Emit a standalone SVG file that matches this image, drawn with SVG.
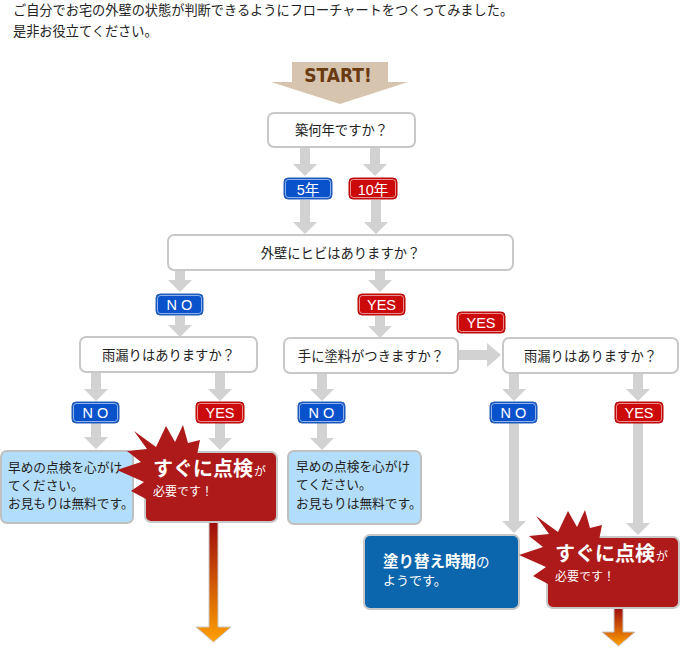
<svg xmlns="http://www.w3.org/2000/svg" width="680" height="648" viewBox="0 0 680 648">
<defs>
<style>
text{font-family:"Noto Sans CJK JP","Liberation Sans",sans-serif;}
.intro{font-size:13.2px;fill:#222;}
.q{fill:#fff;stroke:#c8c8c8;stroke-width:2;}
.qt{font-size:13.3px;fill:#222;text-anchor:middle;}
.ga{fill:#d2d2d2;}
.bb{fill:#0a52cc;stroke:#2a5fb8;stroke-width:1;}
.br{fill:#cc0a0a;stroke:#b80a0a;stroke-width:1;}
.bi{fill:none;stroke:#fff;stroke-opacity:0.55;stroke-width:1;}
.bt{font-family:"Liberation Sans","Noto Sans CJK JP",sans-serif;font-size:14.5px;fill:#fff;text-anchor:middle;}
.lb{fill:#b3defb;stroke:#c0c0c0;stroke-width:2;}
.lt{font-size:12.7px;fill:#222;}
.rb{fill:#ae1a1a;stroke:#c8c8c8;stroke-width:2;}
.burst{fill:#ae1a1a;}
.big{font-size:20px;font-weight:bold;fill:#fff;}
.sm{font-size:12px;fill:#fff;}
.oa{fill:url(#og);stroke:#c8c8c8;stroke-width:1;}
</style>
<linearGradient id="og" x1="0" y1="0" x2="0" y2="1">
<stop offset="0" stop-color="#9e0c0c"/>
<stop offset="1" stop-color="#ffa000"/>
</linearGradient>
</defs>
<rect width="680" height="648" fill="#fff"/>
<text class="intro" x="13" y="15">ご自分でお宅の外壁の状態が判断できるようにフローチャートをつくってみました。</text>
<text class="intro" x="13" y="36">是非お役立てください。</text>

<g id="start">
<polygon points="292,62 388,62 388,82 408,82 340,104 271,82 292,82" fill="#d6c4ae"/>
<text x="338" y="82" text-anchor="middle" style="font-family:'DejaVu Sans Condensed','Liberation Sans',sans-serif;font-weight:bold;font-size:19px;fill:#6a3a10;">START!</text>
</g>

<g id="connectors">
<g class="ga">
<path d="M300,147h10v17h7l-12,12l-12,-12h7z"/>
<path d="M370,147h10v17h7l-12,12l-12,-12h7z"/>
<path d="M300,200h10v22h7l-12,12l-12,-12h7z"/>
<path d="M371,200h10v22h7l-12,12l-12,-12h7z"/>
<path d="M175,270h10v10h7l-12,12l-12,-12h7z"/>
<path d="M375,270h10v10h7l-12,12l-12,-12h7z"/>
<path d="M175,316h10v9h7l-12,12l-12,-12h7z"/>
<path d="M375,316h10v10h7l-12,12l-12,-12h7z"/>
<path d="M458,350v10h29v7l14,-12l-14,-12v7z"/>
<path d="M91,372h10v17h7l-12,12l-12,-12h7z"/>
<path d="M215,372h10v17h7l-12,12l-12,-12h7z"/>
<path d="M317,373h10v16h7l-12,12l-12,-12h7z"/>
<path d="M509,373h10v16h7l-12,12l-12,-12h7z"/>
<path d="M633,373h10v16h7l-12,12l-12,-12h7z"/>
<path d="M91,423h10v14h7l-12,12l-12,-12h7z"/>
<path d="M215,423h10v15h7l-12,12l-12,-12h7z"/>
<path d="M317,423h10v15h7l-12,12l-12,-12h7z"/>
<path d="M509,423h10v98h7l-12,12l-12,-12h7z"/>
<path d="M633,423h10v100h7l-12,12l-12,-12h7z"/>
</g>
<path class="oa" d="M209,522h9v105h13l-17.5,15l-17.5,-15h13z"/>
<path class="oa" d="M614,608h9v24h12l-16.5,14l-16.5,-14h12z"/>
</g>

<g id="badge-5">
<rect class="bb" x="284" y="178" width="48" height="21" rx="4"/>
<rect class="bi" x="285.5" y="179.5" width="45" height="18" rx="3"/>
<text class="bt" x="308" y="194.5">5年</text>
</g>
<g id="badge-10">
<rect class="br" x="349" y="178" width="48" height="21" rx="4"/>
<rect class="bi" x="350.5" y="179.5" width="45" height="18" rx="3"/>
<text class="bt" x="373" y="194.5">10年</text>
</g>
<g id="badge-no1">
<rect class="bb" x="156" y="294" width="47" height="21" rx="4"/>
<rect class="bi" x="157.5" y="295.5" width="44" height="18" rx="3"/>
<text class="bt" x="179.5" y="310">N O</text>
</g>
<g id="badge-yes1">
<rect class="br" x="358" y="294" width="47" height="21" rx="4"/>
<rect class="bi" x="359.5" y="295.5" width="44" height="18" rx="3"/>
<text class="bt" x="381.5" y="310">YES</text>
</g>
<g id="badge-yes2">
<rect class="br" x="457" y="312" width="48" height="21" rx="4"/>
<rect class="bi" x="458.5" y="313.5" width="45" height="18" rx="3"/>
<text class="bt" x="481" y="328">YES</text>
</g>
<g id="badge-no2">
<rect class="bb" x="72" y="402" width="47" height="21" rx="4"/>
<rect class="bi" x="73.5" y="403.5" width="44" height="18" rx="3"/>
<text class="bt" x="95.5" y="418">N O</text>
</g>
<g id="badge-yes3">
<rect class="br" x="196" y="402" width="48" height="21" rx="4"/>
<rect class="bi" x="197.5" y="403.5" width="45" height="18" rx="3"/>
<text class="bt" x="220" y="418">YES</text>
</g>
<g id="badge-no3">
<rect class="bb" x="298" y="402" width="47" height="21" rx="4"/>
<rect class="bi" x="299.5" y="403.5" width="44" height="18" rx="3"/>
<text class="bt" x="321.5" y="418">N O</text>
</g>
<g id="badge-no4">
<rect class="bb" x="490" y="402" width="47" height="21" rx="4"/>
<rect class="bi" x="491.5" y="403.5" width="44" height="18" rx="3"/>
<text class="bt" x="513.5" y="418">N O</text>
</g>
<g id="badge-yes4">
<rect class="br" x="615" y="402" width="48" height="21" rx="4"/>
<rect class="bi" x="616.5" y="403.5" width="45" height="18" rx="3"/>
<text class="bt" x="639" y="418">YES</text>
</g>

<g id="q-age">
<rect class="q" x="268" y="113" width="147" height="34" rx="6"/>
<text class="qt" x="341.5" y="135">築何年ですか？</text>
</g>
<g id="q-crack">
<rect class="q" x="168" y="235" width="345" height="35" rx="6"/>
<text class="qt" x="340.5" y="258">外壁にヒビはありますか？</text>
</g>
<g id="q-leak-left">
<rect class="q" x="80" y="337" width="177" height="35" rx="6"/>
<text class="qt" x="168.5" y="360">雨漏りはありますか？</text>
</g>
<g id="q-paint">
<rect class="q" x="284" y="338" width="174" height="35" rx="6"/>
<text class="qt" x="371" y="361">手に塗料がつきますか？</text>
</g>
<g id="q-leak-right">
<rect class="q" x="503" y="338" width="175" height="35" rx="6"/>
<text class="qt" x="590.5" y="361">雨漏りはありますか？</text>
</g>

<g id="r-check-left">
<rect class="lb" x="1" y="451" width="132" height="72" rx="6"/>
<text class="lt" x="8" y="472">早めの点検を心がけ</text>
<text class="lt" x="8" y="490">てください。</text>
<text class="lt" x="8" y="508">お見もりは無料です。</text>
</g>
<g id="r-urgent-left">
<rect class="rb" x="145" y="452" width="132" height="70" rx="6"/>
<path class="burst" d="M134,431 L156,447 L166,426 L175,442 L183,425 L188,443 L200,440 L197,455 L197,495 L150,503 L146,499 L131,491 L144,482 L117,470 L141,462 L127,451 L147,449 Z"/>
<text x="153" y="476"><tspan class="big">すぐに点検</tspan><tspan class="sm" dx="1">が</tspan></text>
<text class="sm" x="153" y="496">必要です！</text>
</g>
<g id="r-check-mid">
<rect class="lb" x="288" y="451" width="133" height="73" rx="6"/>
<text class="lt" x="296" y="471">早めの点検を心がけ</text>
<text class="lt" x="296" y="489">てください。</text>
<text class="lt" x="296" y="508">お見もりは無料です。</text>
</g>
<g id="r-repaint">
<rect x="364" y="535" width="155" height="74" rx="6" fill="#0b66ad" stroke="#c8c8c8" stroke-width="2"/>
<text x="383" y="567"><tspan style="font-size:15.5px;font-weight:bold;fill:#fff;">塗り替え時期</tspan><tspan style="font-size:13.5px;fill:#fff;">の</tspan></text>
<text x="383" y="585" style="font-size:13px;fill:#fff;">ようです。</text>
</g>
<g id="r-urgent-right">
<rect class="rb" x="547" y="537" width="132" height="71" rx="6"/>
<path class="burst" transform="translate(402,85)" d="M134,431 L156,447 L166,426 L175,442 L183,425 L188,443 L200,440 L197,455 L197,495 L150,503 L146,499 L131,491 L144,482 L117,470 L141,462 L127,451 L147,449 Z"/>
<text x="555" y="561"><tspan class="big">すぐに点検</tspan><tspan class="sm" dx="1">が</tspan></text>
<text class="sm" x="555" y="581">必要です！</text>
</g>
</svg>
